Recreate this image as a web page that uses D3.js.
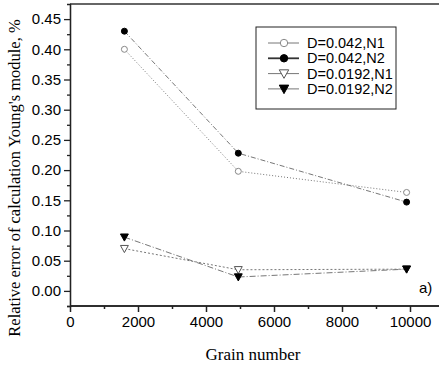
<!DOCTYPE html>
<html>
<head>
<meta charset="utf-8">
<script src="https://cdn.jsdelivr.net/npm/d3@7"></script>
<style>
  body { margin: 0; background: #fff; }
  svg { display: block; }
</style>
</head>
<body>
<svg width="439" height="367"></svg>
<script>
var grainNumber = [1600, 4950, 9900];
var d042N1 = [0.400, 0.198, 0.163];
var d042N2 = [0.430, 0.228, 0.147];
var d0192N1 = [0.070, 0.035, 0.036];
var d0192N2 = [0.089, 0.023, 0.036];
var seriesNames = ["D=0.042,N1", "D=0.042,N2", "D=0.0192,N1", "D=0.0192,N2"];
var xTicks = [0, 2000, 4000, 6000, 8000, 10000];
var yTicks = [0.00, 0.05, 0.10, 0.15, 0.20, 0.25, 0.30, 0.35, 0.40, 0.45];

var series = [
  {name: seriesNames[0], values: d042N1, shape: "circle", filled: false, dash: "1,2"},
  {name: seriesNames[1], values: d042N2, shape: "circle", filled: true, dash: "5,2,1,2"},
  {name: seriesNames[2], values: d0192N1, shape: "triangle", filled: false, dash: "2,2"},
  {name: seriesNames[3], values: d0192N2, shape: "triangle", filled: true, dash: "6,2,1,2"}
];

var svg = d3.select("svg");
var plotLeft = 70, plotTop = 4, plotRight = 444, plotBottom = 306;

var x = d3.scaleLinear().domain([0, 11000]).range([plotLeft, plotRight]);
var y = d3.scaleLinear().domain([-0.025, 0.475]).range([plotBottom, plotTop]);

// frame (top line only visible, right side is cut off)
svg.append("line")
    .attr("x1", plotLeft).attr("x2", 439)
    .attr("y1", plotTop).attr("y2", plotTop)
    .style("stroke", "#333").style("stroke-width", 1.5);

// x axis
var xAxis = svg.append("g")
    .attr("transform", "translate(0," + plotBottom + ")")
    .call(d3.axisBottom(x).tickValues(xTicks).tickSize(6).tickSizeOuter(0).tickPadding(4)
      .tickFormat(d3.format("d")));
xAxis.append("g").call(d3.axisBottom(x).tickValues(d3.range(1000, 11000, 2000)).tickSize(3).tickFormat(""));
xAxis.selectAll("text")
    .style("font-family", "Liberation Sans, Arial, sans-serif")
    .style("font-size", "15px").style("fill", "#000");
xAxis.selectAll("path, line").style("stroke", "#222").style("stroke-width", 1.5);
xAxis.selectAll(".domain").attr("d", "M" + plotLeft + ",0H439");

// y axis
var yAxis = svg.append("g")
    .attr("transform", "translate(" + plotLeft + ",0)")
    .call(d3.axisLeft(y).tickValues(yTicks).tickSize(6).tickSizeOuter(0).tickPadding(3)
      .tickFormat(d3.format(".2f")));
yAxis.append("g").call(d3.axisLeft(y).tickValues(d3.range(-0.025, 0.47, 0.05)).tickSize(3).tickFormat(""));
yAxis.selectAll("text")
    .style("font-family", "Liberation Sans, Arial, sans-serif")
    .style("font-size", "15px").style("fill", "#000");
yAxis.selectAll("path, line").style("stroke", "#222").style("stroke-width", 1.3);

// axis titles
svg.append("text")
    .attr("x", 253).attr("y", 360)
    .attr("text-anchor", "middle")
    .style("font-family", "Liberation Serif, Times New Roman, serif")
    .style("font-size", "17px")
    .text("Grain number");

svg.append("text")
    .attr("transform", "translate(20,178) rotate(-90)")
    .attr("text-anchor", "middle")
    .style("font-family", "Liberation Serif, Times New Roman, serif")
    .style("font-size", "16.5px")
    .text("Relative error of calculation Young's module, %");

svg.append("text")
    .attr("x", 419).attr("y", 293)
    .style("font-family", "Liberation Sans, Arial, sans-serif")
    .style("font-size", "15px")
    .text("a)");

function drawMarker(g, s, cx, cy, r) {
  if (s.shape === "circle") {
    g.append("circle")
        .attr("cx", cx).attr("cy", cy).attr("r", r)
        .style("fill", s.filled ? "#000" : "#fff")
        .style("stroke", s.filled ? "#000" : "#888")
        .style("stroke-width", 1);
  } else {
    var h = r * 1.1;
    g.append("path")
        .attr("d", "M" + (cx - h) + "," + (cy - h * 0.8) + "L" + (cx + h) + "," + (cy - h * 0.8) +
          "L" + cx + "," + (cy + h) + "Z")
        .style("fill", s.filled ? "#000" : "#fff")
        .style("stroke", s.filled ? "#000" : "#555")
        .style("stroke-width", 1);
  }
}

var line = d3.line()
    .x(function(d, i) { return x(grainNumber[i]); })
    .y(function(d) { return y(d); });

series.forEach(function(s) {
  svg.append("path")
      .datum(s.values)
      .attr("d", line)
      .style("fill", "none")
      .style("stroke", "#777")
      .style("stroke-width", 1)
      .style("stroke-dasharray", s.dash);
});

series.forEach(function(s) {
  var g = svg.append("g");
  s.values.forEach(function(v, i) {
    drawMarker(g, s, x(grainNumber[i]), y(v), s.shape === "circle" ? 3 : 3.6);
  });
});

// legend
var legend = svg.append("g");
legend.append("rect")
    .attr("x", 256).attr("y", 27).attr("width", 140).attr("height", 82)
    .style("fill", "#fff").style("stroke", "#222").style("stroke-width", 1);

series.forEach(function(s, i) {
  var ly = 43 + i * 15.3;
  legend.append("line")
      .attr("x1", 268).attr("x2", 299).attr("y1", ly).attr("y2", ly)
      .style("stroke", i === 1 ? "#333" : "#777")
      .style("stroke-width", i === 1 ? 1.8 : 1);
  drawMarker(legend, s, 284, ly, s.shape === "circle" ? 3.7 : 4.3);
  legend.append("text")
      .attr("x", 307).attr("y", ly).attr("dy", ".35em")
      .style("font-family", "Liberation Sans, Arial, sans-serif")
      .style("font-size", "14.5px")
      .text(s.name);
});
</script>
</body>
</html>
